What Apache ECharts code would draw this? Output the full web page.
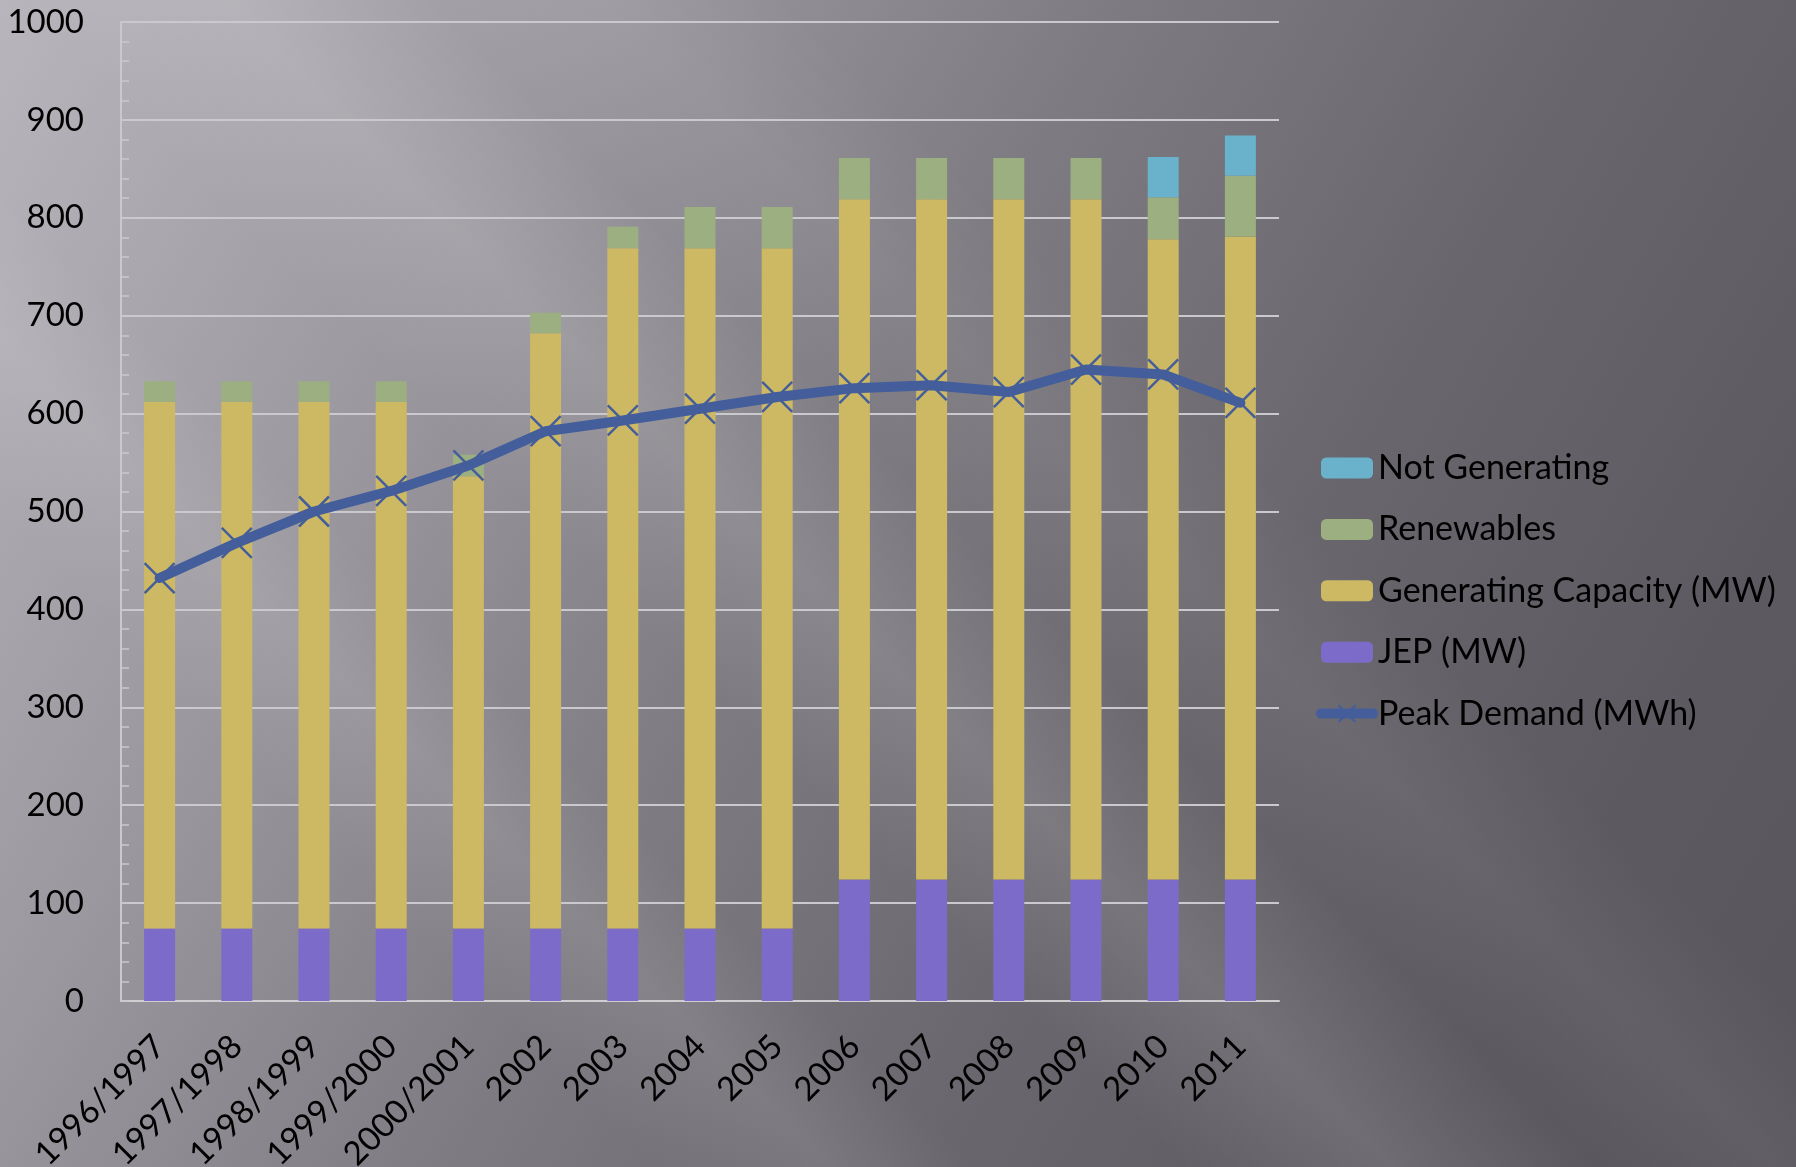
<!DOCTYPE html>
<html>
<head>
<meta charset="utf-8">
<script src="https://cdn.jsdelivr.net/npm/echarts@6/dist/echarts.min.js"></script>
<style>
  html, body { margin: 0; padding: 0; width: 1796px; height: 1167px; overflow: hidden; }
  body {
    background:
      linear-gradient(45deg, rgba(255,255,255,0) 22%, rgba(255,255,255,0.09) 28%, rgba(255,255,255,0) 33%, rgba(255,255,255,0) 40%, rgba(255,255,255,0.11) 47%, rgba(255,255,255,0) 54%, rgba(255,255,255,0.05) 60%, rgba(255,255,255,0) 66%),
      linear-gradient(120deg, #b8b6bc 0%, #9a989e 25%, #7e7c82 45%, #69676d 65%, #5c5a60 85%, #58565c 100%);
  }
  #chart { width: 1796px; height: 1167px; }
</style>
</head>
<body>
<div id="chart"></div>
<script>
const categories = ['1996/1997','1997/1998','1998/1999','1999/2000','2000/2001','2002','2003','2004','2005','2006','2007','2008','2009','2010','2011'];
const jep        = [74, 74, 74, 74, 74, 74, 74, 74, 74, 124, 124, 124, 124, 124, 124];
const generating = [538, 538, 538, 538, 462, 608, 695, 695, 695, 695, 695, 695, 695, 654, 657];
const renewables = [21, 21, 21, 21, 22, 21, 22, 42, 42, 42, 42, 42, 42, 43, 62];
const notGen     = [null, null, null, null, null, null, null, null, null, null, null, null, null, 41, 41];
const peakDemand = [432, 468, 500, 521, 547, 582, 593, 605, 617, 626, 629, 622, 645, 640, 611];
const yTicks = [0, 100, 200, 300, 400, 500, 600, 700, 800, 900, 1000];

const FONT = 'Lato';
const chart = echarts.init(document.getElementById('chart'), null, { renderer: 'canvas' });
const barW = 31;
const xSym = 'path://M0,0L10,10M10,0L0,10';
const lineColor = '#445e9c';

chart.setOption({
  backgroundColor: 'transparent',
  animation: false,
  textStyle: { fontFamily: FONT, color: '#000' },
  grid: { left: 121, right: 517, top: 22, bottom: 166, containLabel: false, outerBoundsMode: 'none' },
  legend: {
    orient: 'vertical',
    left: 1316,
    top: 451,
    padding: 0,
    itemWidth: 52,
    itemHeight: 21,
    itemGap: 27.4,
    textStyle: { fontFamily: FONT, fontSize: 34, color: '#000', lineHeight: 34 },
    data: [
      'Not Generating', 'Renewables', 'Generating Capacity (MW)', 'JEP (MW)',
      { name: 'Peak Demand (MWh)',
        lineStyle: { width: 10, color: lineColor, cap: 'round' },
        itemStyle: { color: 'rgba(0,0,0,0)', borderColor: lineColor, borderWidth: 2 } }
    ]
  },
  xAxis: {
    type: 'category',
    data: categories,
    axisLine: { show: true, lineStyle: { color: '#cfcfd2', width: 2 } },
    axisTick: { show: false },
    axisLabel: { rotate: 45, fontSize: 33, fontFamily: FONT, color: '#000', margin: 40, interval: 0 }
  },
  yAxis: {
    type: 'value',
    min: 0,
    max: 1000,
    interval: 100,
    axisLine: { show: true, lineStyle: { color: '#c9c8cc', width: 2 } },
    axisTick: { show: true, inside: true, length: 8, lineStyle: { color: '#c9c8cc', width: 1.5 } },
    minorTick: { show: true, splitNumber: 5, length: 8, lineStyle: { color: '#c9c8cc', width: 1.5 } },
    splitLine: { show: true, lineStyle: { color: '#cac9cd', width: 2 } },
    axisLabel: {
      fontSize: 33, fontFamily: FONT, color: '#000', margin: 37,
      formatter: v => yTicks.includes(v) ? String(v) : ''
    }
  },
  series: [
    { name: 'JEP (MW)', type: 'bar', stack: 'total', barWidth: barW, data: jep,
      itemStyle: { color: '#7d6bc9' } },
    { name: 'Generating Capacity (MW)', type: 'bar', stack: 'total', barWidth: barW, data: generating,
      itemStyle: { color: '#cdb864' } },
    { name: 'Renewables', type: 'bar', stack: 'total', barWidth: barW, data: renewables,
      itemStyle: { color: '#9baf80' } },
    { name: 'Not Generating', type: 'bar', stack: 'total', barWidth: barW, data: notGen,
      itemStyle: { color: '#6ab1cb' } },
    { name: 'Peak Demand (MWh)', type: 'line', data: peakDemand, z: 5,
      symbol: xSym, symbolSize: 30, showAllSymbol: true,
      lineStyle: { color: lineColor, width: 10, cap: 'round', join: 'round' },
      itemStyle: { color: 'rgba(0,0,0,0)', borderColor: lineColor, borderWidth: 2.5 } }
  ]
});
</script>
</body>
</html>
